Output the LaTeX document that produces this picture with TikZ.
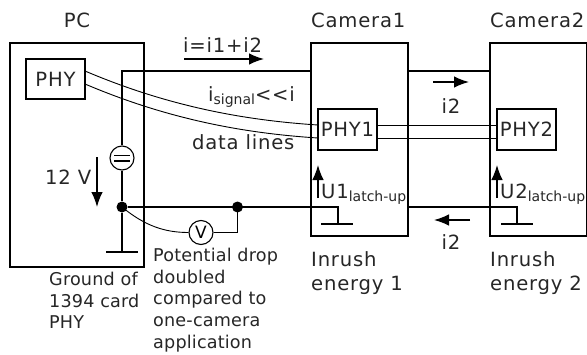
\documentclass[tikz,border=0pt]{standalone}
\usepackage{fontspec}
\setmainfont{DejaVu Sans}
\newfontfamily\widefont[LetterSpace=4]{DejaVu Sans}
\newfontfamily\smallfont[LetterSpace=1]{DejaVu Sans}
\usetikzlibrary{arrows.meta}
\tikzset{
  x=1pt,y=-1pt,
  wire/.style={line width=1.3pt,draw=black},
  thin wire/.style={line width=0.9pt,draw=black},
  boxn/.style={draw=black,line width=1.3pt,minimum width=#1,inner sep=0pt,fill=none},
  arr/.style={line width=1.4pt,-{Latex[length=15pt,width=11.5pt]}},
  big/.style={font=\widefont\fontsize{19.6}{19.6}\selectfont,inner sep=0pt,text=black!85},
  small/.style={font=\smallfont\fontsize{17.6}{21.7}\selectfont,inner sep=0pt,align=left,anchor=north west,text=black!85},
  dot/.style={circle,fill=black,inner sep=0pt,minimum size=11pt},
  round sym/.style={circle,draw=black,line width=1.1pt,fill=white,minimum size=24pt,inner sep=0pt}
}
\newcommand{\subtxt}[2]{\raisebox{#1}{\normalfont\fontsize{14}{14}\selectfont #2}}
\begin{document}
\begin{tikzpicture}
\useasboundingbox (0,0) rectangle (587,354);
\node[boxn=134pt,minimum height=224pt] (pc) at (77,155) {};
\node[boxn=59pt,minimum height=40pt,big] (phy) at (55.5,79) {PHY};
\node[boxn=97pt,minimum height=193pt] (cam1) at (359.5,139.5) {};
\node[boxn=97pt,minimum height=193pt] (cam2) at (538.5,139.5) {};
\node[boxn=59pt,minimum height=41pt,big] (phy1) at (347.5,129.5) {PHY1};
\node[boxn=59pt,minimum height=41pt,big] (phy2) at (526.5,129.5) {PHY2};
% power wires
\coordinate (tl) at (122,71);
\coordinate (gnd) at (122,252);
\coordinate (c1t) at (311,71);
\coordinate (c1tr) at (408,71);
\coordinate (c2t) at (490,71);
\node[dot] (n1) at (122,207) {};
\node[dot] (n2) at (237.5,207) {};
\coordinate (c1b) at (311,207);
\coordinate (c1br) at (408,207);
\coordinate (c2b) at (490,207);
\coordinate (g1) at (338,207);
\coordinate (g1b) at (338,224);
\coordinate (g2) at (517,207);
\coordinate (g2b) at (517,224);
\node[round sym] (src) at (122,158) {};
\node[round sym,font=\fontsize{17}{17}\selectfont] (vm) at (201,232.5) {V};
\draw[wire] (c1t) -- (tl) -- (src.north);
\draw[wire] (src.south) -- (n1) -- (gnd);
\draw[wire] (c1tr) -- (c2t);
\draw[wire] (n1) -- (c1b) -- (g1) -- (g1b);
\draw[wire] (c1br) -- (c2b) -- (g2) -- (g2b);
\draw[wire] (106,252) -- (138,252);
\draw[wire] (321,224) -- (353,224);
\draw[wire] (501,224) -- (533,224);
\draw[wire] (114,155.5) -- (130,155.5) (114,161) -- (130,161);
% voltmeter
\draw[thin wire] (n1.center) .. controls (145,226) and (165,232.5) .. (vm.west);
\draw[thin wire] (vm.east) -| (n2.center);
% data lines
\coordinate (d1a) at (85,71);
\coordinate (d2a) at (85,84);
\coordinate (p1a) at (318,125);
\coordinate (p1b) at (318,138);
\draw[thin wire] (d1a) .. controls (165,105) and (240,120) .. (p1a);
\draw[thin wire] (d2a) .. controls (165,118) and (240,133) .. (p1b);
\draw[thin wire] (377,125) -- (497,125);
\draw[thin wire] (377,138) -- (497,138);
% arrows
\draw[arr] (184,59) -- (264,59);
\draw[arr] (433,82) -- (469,82);
\draw[arr] (470,220) -- (434,220);
\draw[arr] (97,157) -- (97,207);
\draw[arr] (318,198) -- (318,165);
\draw[arr] (497,198) -- (497,165);
% labels
\node[big] (tpc) at (77,20) {PC};
\node[big,anchor=west] (tc1) at (311,20) {Camera1};
\node[big,anchor=west] (tc2) at (490,20) {Camera2};
\node[big,anchor=west] (ti) at (183,45) {i=i1+i2};
\node[big,anchor=west] (tsig) at (208,97) {i\subtxt{-3pt}{signal}{<}{<}i};
\node[big,anchor=west] (tdata) at (192,142) {data lines};
\node[big,anchor=west] (t12) at (45,177) {12 V};
\node[big] (ti2a) at (451,106) {i2};
\node[big] (ti2b) at (451,242) {i2};
\node[big,anchor=west] (u1) at (321,194) {U1\subtxt{-3pt}{latch-up}};
\node[big,anchor=west] (u2) at (500,194) {U2\subtxt{-3pt}{latch-up}};
\node[big,anchor=west] (in1a) at (311,259) {Inrush};
\node[big,anchor=west] (in1b) at (311,285) {energy 1};
\node[big,anchor=west] (in2a) at (490,259) {Inrush};
\node[big,anchor=west] (in2b) at (490,285) {energy 2};
\node[small] (tg) at (49,272) {Ground of\\1394 card\\PHY};
\node[small] (tp) at (153,248) {Potential drop\\doubled\\compared to\\one-camera\\application};
\end{tikzpicture}
\end{document}
